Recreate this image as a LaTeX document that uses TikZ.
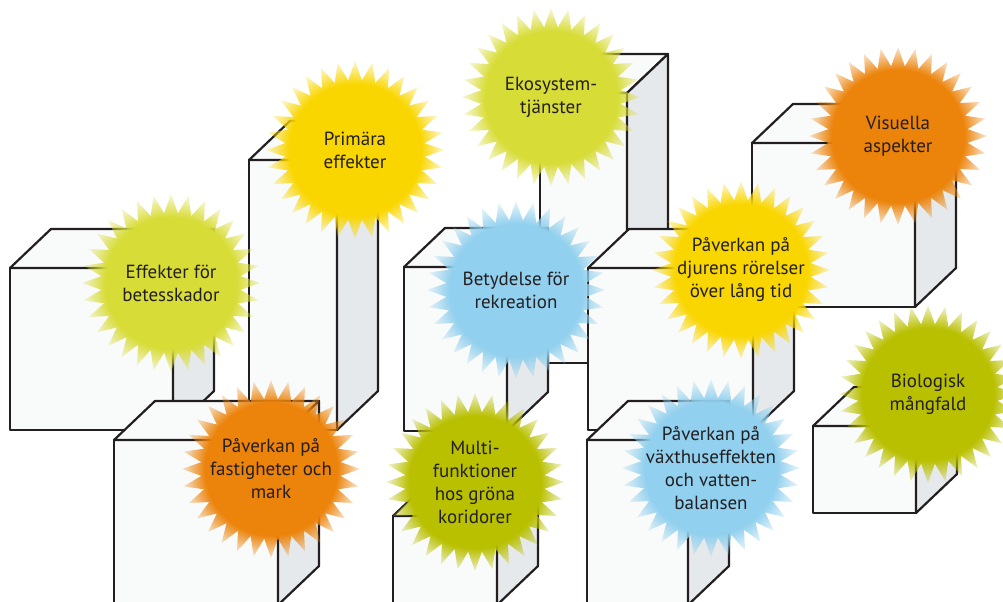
\documentclass[tikz,border=0pt]{standalone}
\usepackage{fontspec}
\setmainfont{PT Sans}
\usetikzlibrary{fadings}

\definecolor{ink}{HTML}{231F20}
\definecolor{facefront}{HTML}{F9FAFA}
\definecolor{faceside}{HTML}{E6E9EB}
\definecolor{lime}{HTML}{D8DC37}
\definecolor{sunyellow}{HTML}{F9D600}
\definecolor{sunorange}{HTML}{EC830A}
\definecolor{sunblue}{HTML}{91D0EE}
\definecolor{olive}{HTML}{B9C000}

% soft rim for the suns
\pgfdeclareradialshading{sunglowshade}{\pgfpointorigin}{color(0bp)=(pgftransparent!0); color(18.5bp)=(pgftransparent!0); color(26.5bp)=(pgftransparent!100); color(50bp)=(pgftransparent!100)}
\pgfdeclarefading{sunglow}{\pgfuseshading{sunglowshade}}

\begin{document}
\begin{tikzpicture}[x=0.5pt, y=-0.5pt, line join=round,
  block/.style={draw=ink, line width=1.1pt},
  suntext/.style={text=ink, align=center, font=\fontsize{9.5}{11.5}\selectfont}]
  \useasboundingbox (0,0) rectangle (1003,601);
  \clip (0,0) rectangle (1003,601);

  % blocks, back to front: front face, top, right side
  \foreach \x/\y/\w/\h in {540/93/87/270, 588/268/165/162, 752/143/163/164,
      249/160/88/270, 10/268/163/162, 404/267/103/164, 813/426/103/87,
      114/440/164/165, 587/440/101/165, 393/516/104/89} {
    \filldraw[block, fill=facefront] (\x,\y) rectangle ++(\w,\h);
    \filldraw[block, fill=facefront] (\x,\y) -- ++(41,-39) -- ++(\w,0) -- ++(-41,39) -- cycle;
    \filldraw[block, fill=faceside] (\x+\w,\y) -- ++(41,-39) -- ++(0,\h) -- ++(-41,39) -- cycle;
  }

  % suns with their labels
  \foreach \x/\y/\c/\n/\t in {
      171/283/lime/betes/{Effekter för\\betesskador},
      355/150/sunyellow/primara/{Primära\\effekter},
      551/97/lime/ekosystem/{Ekosystem-\\tjänster},
      898/136/sunorange/visuella/{Visuella\\aspekter},
      516/290/sunblue/rekreation/{Betydelse för\\rekreation},
      741/270/sunyellow/djur/{Påverkan på\\djurens rörelser\\över lång tid},
      271/469/sunorange/fastighet/{Påverkan på\\fastigheter och\\mark},
      475/482/olive/korridor/{Multi-\\funktioner\\hos gröna\\koridorer},
      711/468/sunblue/vaxthus/{Påverkan på\\växthuseffekten\\och vatten-\\balansen},
      928/394/olive/biologisk/{Biologisk\\mångfald}} {
    \begin{scope}[shift={(\x,\y)}]
      \fill[\c, path fading=sunglow] plot[samples at={0,...,63}, variable=\k]
        ({\k*5.625}:{ifthenelse(mod(\k,2)==0,89,70)}) -- cycle;
    \end{scope}
    \node[suntext] (\n) at (\x,\y) {\t};
  }
\end{tikzpicture}
\end{document}
